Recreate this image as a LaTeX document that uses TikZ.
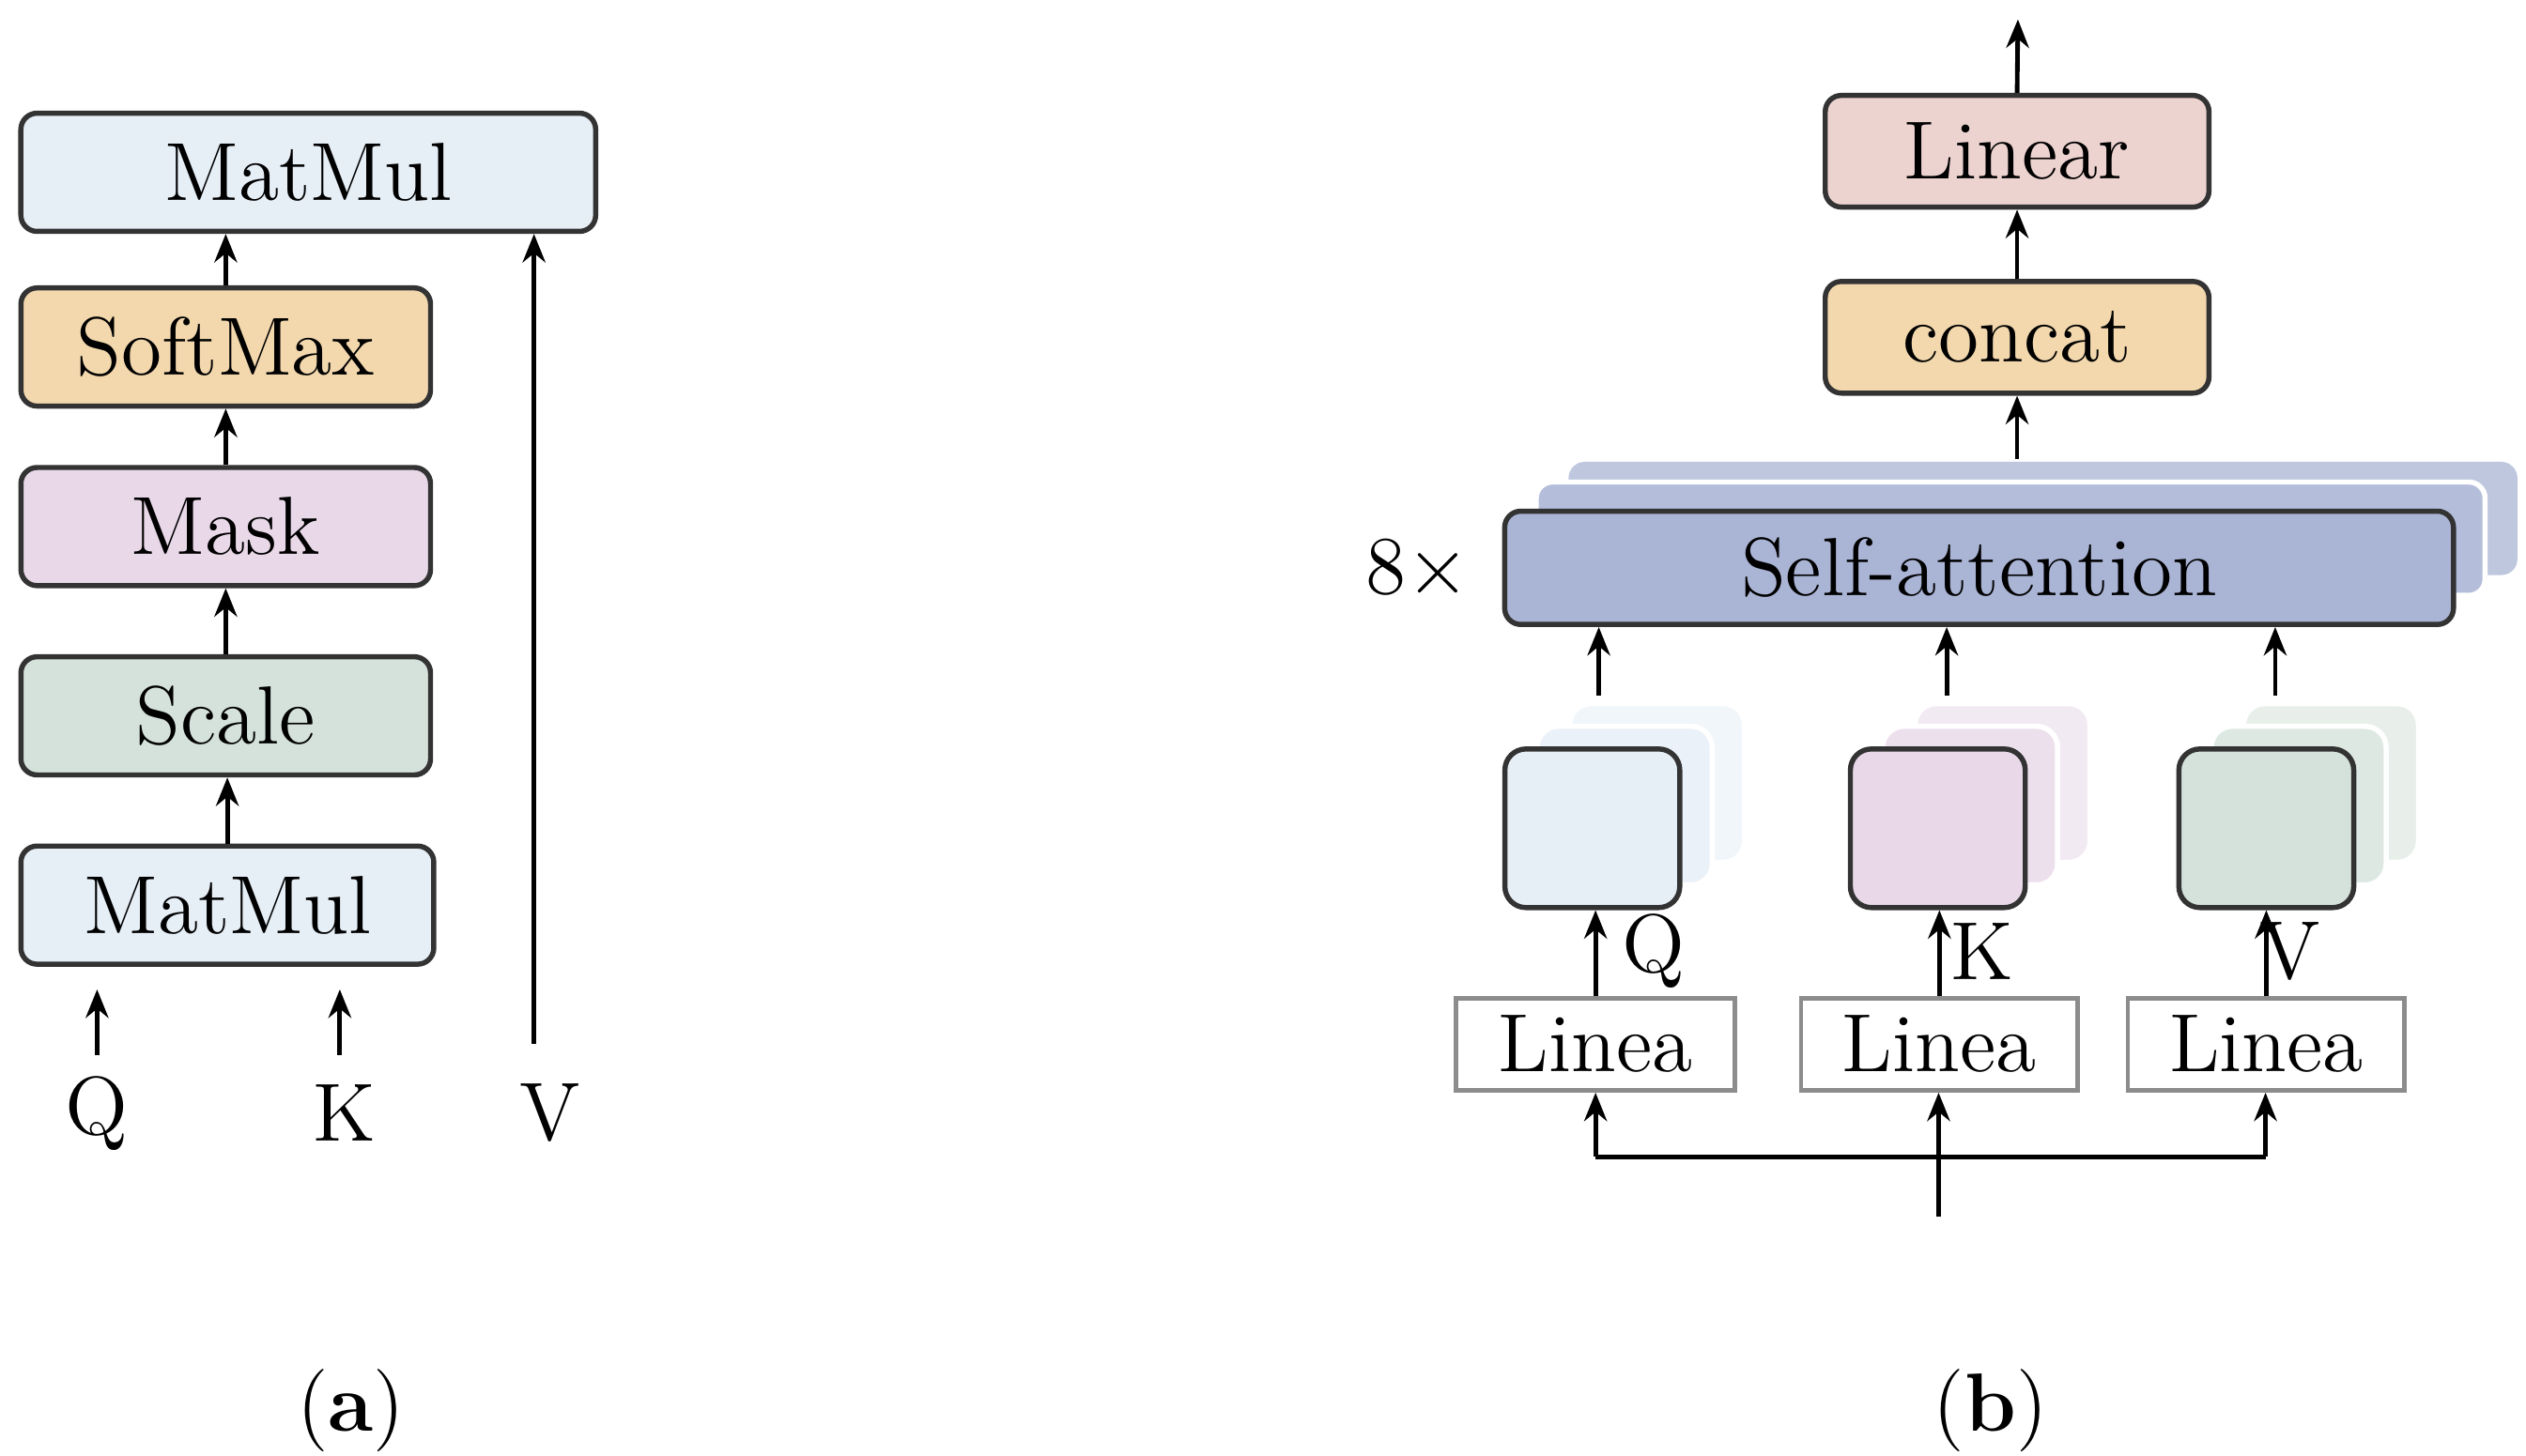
\documentclass[tikz,border=0pt]{standalone}
\usetikzlibrary{arrows.meta}
\begin{document}
\begin{tikzpicture}[x=0.01cm,y=-0.01cm,
  every node/.style={font=\fontsize{14.5}{17}\selectfont},
  box/.style={draw=black!80,line width=0.9pt,rounded corners=0.1cm,inner sep=0pt,minimum height=0.73cm},
  sq/.style={draw=black!45,line width=0.8pt,inner sep=0pt,minimum width=1.72cm,minimum height=0.57cm},
  sm/.style={draw=black!80,line width=0.9pt,rounded corners=0.13cm,minimum width=1.08cm,minimum height=0.98cm},
  smb/.style={draw=white,line width=0.9pt,rounded corners=0.13cm,minimum width=1.08cm,minimum height=0.98cm},
  arr/.style={line width=0.8pt,-{Stealth[length=5pt,width=4pt]}},
  ln/.style={line width=0.8pt}]
\useasboundingbox (0,0) rectangle (1561,900);
\definecolor{cb}{HTML}{E6EEF6}\definecolor{co}{HTML}{F3D8AE}
\definecolor{cm}{HTML}{E8D8E8}\definecolor{cg}{HTML}{D5E2DB}
\definecolor{cl}{HTML}{EDD3D0}\definecolor{cs}{HTML}{AAB4D5}
% (a)
\node[box,fill=cb,minimum width=3.55cm] (mm2) at (190.5,106.5) {MatMul};
\node[box,fill=co,minimum width=2.53cm] (smx) at (139.5,214.5) {SoftMax};
\node[box,fill=cm,minimum width=2.53cm] (mask) at (139.5,325.5) {Mask};
\node[box,fill=cg,minimum width=2.53cm] (scale) at (139.5,442.5) {Scale};
\node[box,fill=cb,minimum width=2.55cm] (mm1) at (140.5,559.5) {MatMul};
\draw[arr] (mm1.north) -- (mm1.north |- scale.south);
\draw[arr] (scale) -- (mask);
\draw[arr] (mask) -- (smx);
\draw[arr] (smx.north) -- (smx.north |- mm2.south);
\node (q) at (60,688) {Q};
\node (k) at (213,688) {K};
\node (v) at (340,688) {V};
\coordinate (qa) at (60,652); \coordinate (ka) at (210,652); \coordinate (va) at (330,645);
\draw[arr] (qa) -- ([yshift=-0.14cm]qa |- mm1.south);
\draw[arr] (ka) -- ([yshift=-0.14cm]ka |- mm1.south);
\draw[arr] (va) -- (va |- mm2.south);
\node (la) at (217,872) {(\textbf{a})};
% (b)
\node[box,fill=cl,minimum width=2.37cm,minimum height=0.69cm] (lin) at (1246.5,93.5) {Linear};
\node[box,fill=co,minimum width=2.37cm,minimum height=0.69cm] (cat) at (1246.5,208.5) {concat};
\node[box,draw=none,fill=cs!75,minimum width=5.86cm,minimum height=0.7cm] (sa3) at (1262.5,320.5) {};
\node[box,draw=white,fill=cs!88,minimum width=5.86cm,minimum height=0.7cm] (sa2) at (1242.5,333) {};
\node[box,fill=cs,minimum width=5.86cm,minimum height=0.7cm] (sa) at (1223,351) {Self-attention};
\node (eight) at (876,352) {8$\times$};
\coordinate (top) at (1247,12);
\draw[arr] (lin.north) -- (top);
\draw[arr] (cat) -- (lin);
\draw[arr] (sa3.north -| cat) -- (cat.south);
% small stacks
\foreach \n/\x/\c/\lx/\lbl in {q/984/cb/1022/Q,k/1197.5/cm/1225/K,v/1400.5/cg/1415/V}{
  \node[smb,fill=\c!55] (\n3) at (\x+40,484) {};
  \node[smb,fill=\c!80] (\n2) at (\x+20,498) {};
  \node[sm,fill=\c] (\n1) at (\x,512) {};
}
\node[sq] (l1) at (986,645.5) {Linea};
\node[sq,minimum width=1.71cm] (l2) at (1198.5,645.5) {Linea};
\node[sq,minimum width=1.71cm] (l3) at (1400.5,645.5) {Linea};
\draw[arr] (l1.north) -- (l1.north |- q1.south);
\draw[arr] (l2.north) -- (l2.north |- k1.south);
\draw[arr] (l3.north) -- (l3.north |- v1.south);
\node (lq) at (1022,588) {Q};
\node (lk) at (1225,588) {K};
\node (lv) at (1415,588) {V};
\coordinate (a1) at (988,430); \coordinate (a2) at (1203,430); \coordinate (a3) at (1406,430);
\draw[arr] (a1) -- (a1 |- sa.south);
\draw[arr] (a2) -- (a2 |- sa.south);
\draw[arr] (a3) -- (a3 |- sa.south);
\coordinate (in) at (1198,752);
\coordinate (j1) at (986,715); \coordinate (j2) at (1400,715);
\draw[arr] (in) -- (in |- l2.south);
\draw[ln] (j1) -- (j2);
\draw[arr] (j1) -- (j1 |- l1.south);
\draw[arr] (j2) -- (j2 |- l3.south);
\node (lb) at (1230,872) {(\textbf{b})};
\end{tikzpicture}
\end{document}
